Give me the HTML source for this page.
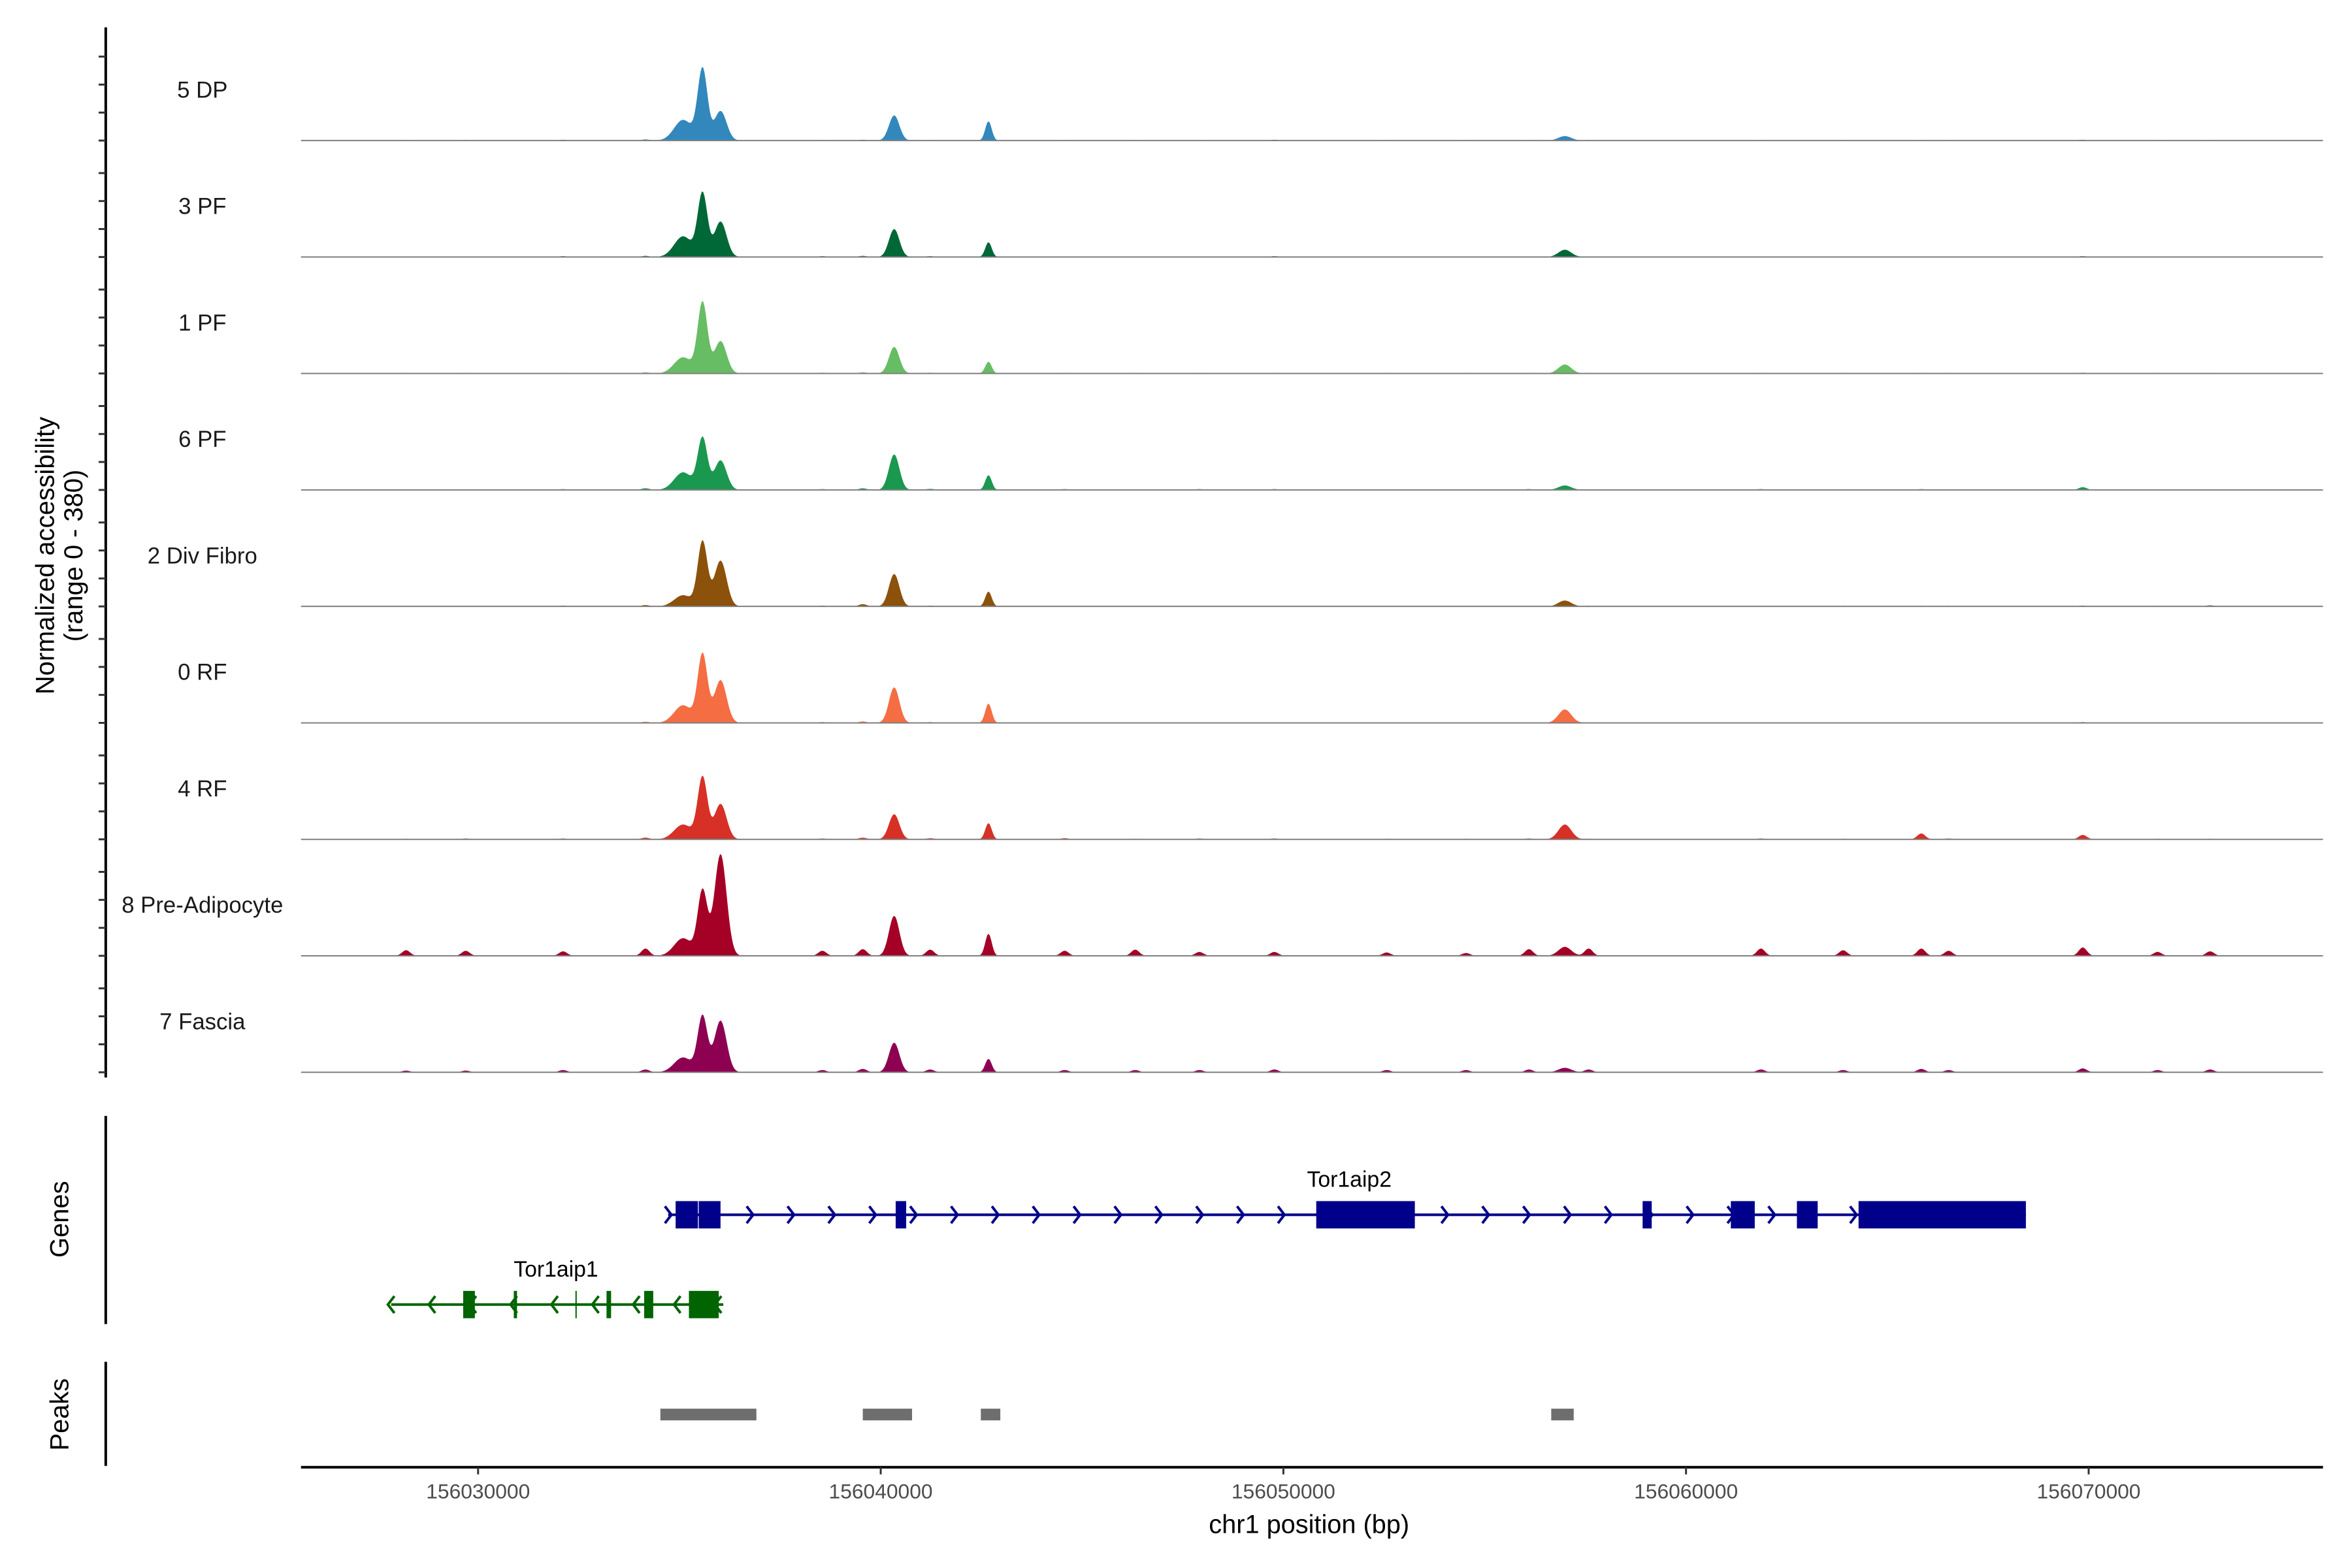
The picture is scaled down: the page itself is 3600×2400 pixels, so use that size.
<!DOCTYPE html>
<html><head><meta charset="utf-8">
<style>
html,body{margin:0;padding:0;background:#fff;}
svg{display:block;font-family:"Liberation Sans",Arial,sans-serif;}
</style></head>
<body>
<svg id="chart" width="3600" height="2400" viewBox="0 0 3600 2400" xmlns="http://www.w3.org/2000/svg">
<rect width="3600" height="2400" fill="#fff"/>
<g id="root" transform="translate(3,0) scale(0.9929 0.9959)">
<g id="tracks"></g>
<g id="yaxis"></g>
<text transform="translate(80,854) rotate(-90)" text-anchor="middle" font-size="40">Normalized accessibility</text>
<text transform="translate(124,854) rotate(-90)" text-anchor="middle" font-size="40">(range 0 - 380)</text>
<g id="genes"></g>
<g id="peaks"></g>
<g id="xaxis"></g>
<text transform="translate(102,1874) rotate(-90)" text-anchor="middle" font-size="40">Genes</text>
<text transform="translate(102,2174) rotate(-90)" text-anchor="middle" font-size="40">Peaks</text>
<text x="2015" y="2356" text-anchor="middle" font-size="40">chr1 position (bp)</text>
</g>
</svg>
<script>
// ---- data ----
const trackNames = ["5 DP","3 PF","1 PF","6 PF","2 Div Fibro","0 RF","4 RF","8 Pre-Adipocyte","7 Fascia"];
const trackColors = ["#3288bd","#006837","#66bd63","#1a9850","#8c510a","#f46d43","#d73027","#a50026","#8e0152"];
const peakPositions = [156035091,156035575,156036021,156040334,156042676,156056991,
  156028212,156029694,156032111,156034157,156038549,156039554,156041227,156044568,156046321,156047915,156049776,156052565,156054536,156056099,156057582,156061860,156063902,156065843,156066521,156069854,156071712,156073016];
const peakWidths = [220,120,150,130,80,160, 100,100,100,100,100,100,100,100,100,100,100,100,100,100,100,100,100,100,100,100,100,100];
const vals5DP  = [74,256,106,90,69,16, 2,2,3,4,2,3,2,2,2,2,3,2,2,2,2,2,2,2,2,3,2,2];
const vals3PF  = [74,227,127,100,53,26, 2,2,3,4,3,4,3,2,2,2,3,2,2,2,2,2,2,2,2,3,2,2];
const vals1PF  = [58,253,116,95,42,32, 2,2,2,4,3,4,3,2,2,2,2,2,2,2,2,2,2,2,2,3,2,2];
const vals6PF  = [63,185,106,127,53,16, 2,2,3,6,3,6,4,3,2,3,3,2,2,3,2,3,2,3,2,10,2,2];
const valsDiv  = [40,232,164,116,53,21, 2,2,3,5,3,8,3,2,2,2,2,2,2,2,2,2,2,2,2,3,2,4];
const vals0RF  = [63,245,153,127,69,48, 2,2,2,4,3,5,3,2,2,2,2,2,2,2,2,2,2,2,2,3,2,2];
const vals4RF  = [53,222,127,90,58,53, 2,3,3,6,3,6,4,4,2,3,3,2,2,3,2,3,2,21,3,16,2,2];
const vals8PA  = [63,232,364,143,79,32, 20,18,16,26,18,24,22,18,22,14,14,12,10,24,26,26,20,26,18,30,14,16];
const vals7F   = [53,200,185,106,48,16, 6,6,8,10,8,12,10,8,8,8,10,8,8,10,10,10,8,12,8,14,8,10];
const trackValues = [vals5DP,vals3PF,vals1PF,vals6PF,valsDiv,vals0RF,vals4RF,vals8PA,vals7F];
const xTicks = [156030000,156040000,156050000,156060000,156070000];
const geneNames = ["Tor1aip2","Tor1aip1"];
const geneStarts = [156034721,156027841];
const geneEnds = [156068441,156036090];
const geneStrands = [1,-1];
const geneExonStarts = [
  [156034906,156035480,156040371,156050816,156058922,156061113,156062754,156064285],
  [156029630,156030887,156032417,156033190,156034125,156035236]];
const geneExonEnds = [
  [156035460,156036021,156040632,156053265,156059148,156061707,156063270,156068441],
  [156029920,156030967,156032450,156033303,156034350,156035977]];
const peakStarts = [156034527,156039554,156042486,156056652];
const peakEnds = [156036912,156040778,156042970,156057211];

// ---- scales ----
const X0 = 461, X1 = 3578;
const BP0 = 156025602, PXPERBP = 0.06207;
function xs(bp){ return X0 + (bp - BP0) * PXPERBP; }
const BASE0 = 216, TRACKSTEP = 179, VSCALE = 0.43;
function ys(i, v){ return BASE0 + i*TRACKSTEP - v*VSCALE; }
const NS = "http://www.w3.org/2000/svg";
function mk(tag, attrs, parent){ const e = document.createElementNS(NS, tag); for (const k in attrs) e.setAttribute(k, attrs[k]); parent.appendChild(e); return e; }

// ---- tracks ----
const tg = document.getElementById('tracks');
trackNames.forEach((name, i) => {
  const vals = trackValues[i];
  let d = `M${X0},${ys(i,0)}`;
  for (let px = X0; px <= X1; px += 2) {
    const bp = BP0 + (px - X0) / PXPERBP;
    let v = 0;
    for (let k = 0; k < peakPositions.length; k++) {
      const z = (bp - peakPositions[k]) / peakWidths[k];
      v += vals[k] * Math.exp(-0.5*z*z);
    }
    d += `L${px},${ys(i,v).toFixed(1)}`;
  }
  d += `L${X1},${ys(i,0)}Z`;
  const area = mk('path', {d: d, fill: trackColors[i]}, tg);
  
  
  const bl = mk('line', {x1: X0, x2: X1, y1: ys(i,0), y2: ys(i,0), stroke: '#7f7f7f', 'stroke-width': 2}, tg);
  
  
  const lab = mk('text', {x: 309, y: ys(i,0) - 66, 'text-anchor': 'middle', 'font-size': 35, fill: '#1a1a1a'}, tg);
  lab.textContent = name;
  
  
});

// ---- y axis ----
const yg = document.getElementById('yaxis');
mk('line', {x1: 160, x2: 160, y1: 42, y2: 1656, stroke: '#000', 'stroke-width': 4}, yg);
trackNames.forEach((n, i) => {
  for (let k = 0; k < 4; k++) {
    const t = mk('line', {x1: 149, x2: 160, y1: ys(i, k*100), y2: ys(i, k*100), stroke: '#333', 'stroke-width': 3}, yg);
    
    
  }
});
mk('line', {x1: 160, x2: 160, y1: 1715, y2: 2035, stroke: '#000', 'stroke-width': 4}, yg);
mk('line', {x1: 160, x2: 160, y1: 2093, y2: 2253, stroke: '#000', 'stroke-width': 4}, yg);

// ---- genes ----
const gg = document.getElementById('genes');
const geneY = [1867, 2005], geneCol = ["#00008b", "#006400"], labelPos = [[2077,1824],[854,1962]];
geneNames.forEach((g, i) => {
  const y = geneY[i], c = geneCol[i];
  const ln = mk('line', {x1: xs(geneStarts[i]), x2: xs(geneEnds[i]), y1: y, y2: y, stroke: c, 'stroke-width': 4}, gg);
  
  
  for (let px = xs(geneStarts[i]); px <= xs(geneEnds[i]) + 1; px += 63) {
    const dir = geneStrands[i];
    const ch = mk('path', {d: `M${px - 5*dir},${y-13} L${px + 5*dir},${y} L${px - 5*dir},${y+13}`, fill: 'none', stroke: c, 'stroke-width': 4}, gg);
    
    
  }
  geneExonStarts[i].forEach((s, k) => {
    const e = geneExonEnds[i][k];
    const w = Math.max(2, xs(e) - xs(s));
    const r = mk('rect', {x: xs(s), y: y - 21, width: w, height: 42, fill: c}, gg);
    
    
  });
  const t = mk('text', {x: labelPos[i][0], y: labelPos[i][1], 'text-anchor': 'middle', 'font-size': 34, fill: '#000'}, gg);
  t.textContent = g;
  
  
});

// ---- peaks ----
const pg = document.getElementById('peaks');
peakStarts.forEach((s, i) => {
  const r = mk('rect', {x: xs(s), y: 2165, width: xs(peakEnds[i]) - xs(s), height: 18, fill: '#6e6e6e'}, pg);
  
  
});

// ---- x axis ----
const xg = document.getElementById('xaxis');
mk('line', {x1: X0, x2: X1, y1: 2255, y2: 2255, stroke: '#000', 'stroke-width': 4}, xg);
xTicks.forEach(v => {
  const tk = mk('line', {x1: xs(v), x2: xs(v), y1: 2255, y2: 2266, stroke: '#333', 'stroke-width': 3}, xg);
  
  
  const t = mk('text', {x: xs(v), y: 2303, 'text-anchor': 'middle', 'font-size': 32, fill: '#4d4d4d'}, xg);
  t.textContent = String(v);
  
  
});
</script>
</body></html>
